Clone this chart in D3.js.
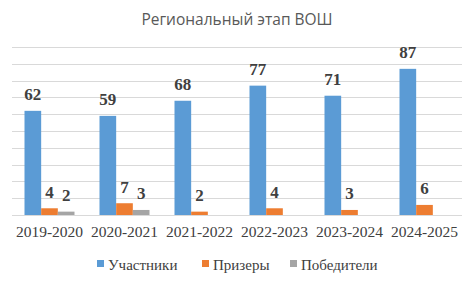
<!DOCTYPE html>
<html>
<head>
<meta charset="utf-8">
<script src="https://cdn.jsdelivr.net/npm/d3@7"></script>
<style>
  body { margin: 0; background: #fff; }
  svg { display: block; }
  .serif { font-family: 'Liberation Serif', 'Times New Roman', 'DejaVu Serif', serif; }
</style>
</head>
<body>
<div id="chart"></div>
<script>
// Региональный этап ВОШ
var years = ["2019-2020", "2020-2021", "2021-2022", "2022-2023", "2023-2024", "2024-2025"];
var seriesNames = ["Участники", "Призеры", "Победители"];
var participants = [62, 59, 68, 77, 71, 87];
var prizewinners = [4, 7, 2, 4, 3, 6];
var winners = [2, 3, null, null, null, null];
var yTicks = [0, 10, 20, 30, 40, 50, 60, 70, 80, 90, 100];

var w = 472, h = 285;
var margin = {left: 12, right: 10, top: 47, bottom: 70};

var color = d3.scaleOrdinal()
    .domain(seriesNames)
    .range(["#5B9BD5", "#ED7D31", "#A5A5A5"]);

var rows = years.map((y, i) => ({
    year: y,
    values: [participants[i], prizewinners[i], winners[i]]
}));

var svg = d3.select("#chart").append("svg")
    .attr("width", w)
    .attr("height", h);

var xScale = d3.scaleBand()
    .domain(years)
    .range([margin.left, w - margin.right]);

var inner = d3.scaleBand()
    .domain(seriesNames)
    .range([0, xScale.bandwidth() * 2 / 3]);

var yScale = d3.scaleLinear()
    .domain([0, 100])
    .range([h - margin.bottom, margin.top]);

// gridlines
svg.append("g")
    .selectAll("line")
    .data(yTicks)
    .enter()
    .append("line")
    .attr("x1", margin.left)
    .attr("x2", w - margin.right)
    .attr("y1", d => Math.round(yScale(d)) + 0.5)
    .attr("y2", d => Math.round(yScale(d)) + 0.5)
    .attr("stroke", "#D9D9D9")
    .attr("stroke-width", 1);

// title
svg.append("text")
    .attr("x", 237)
    .attr("y", 25)
    .attr("text-anchor", "middle")
    .style("font-family", "'Open Sans', sans-serif")
    .style("font-size", "15.5px")
    .attr("fill", "#595959")
    .text("Региональный этап ВОШ");

var groups = svg.selectAll(".grp")
    .data(rows)
    .enter()
    .append("g")
    .attr("class", "grp")
    .attr("transform", d => `translate(${xScale(d.year) + xScale.bandwidth() / 6}, 0)`);

var cells = groups.selectAll(".bar")
    .data(d => d.values.map((v, k) => ({key: seriesNames[k], value: v})).filter(c => c.value != null))
    .enter();

cells.append("rect")
    .attr("class", "bar")
    .attr("x", d => inner(d.key))
    .attr("width", inner.bandwidth())
    .attr("y", d => yScale(d.value))
    .attr("height", d => yScale(0) - yScale(d.value))
    .attr("fill", d => color(d.key));

cells.append("text")
    .attr("class", "serif")
    .attr("x", d => inner(d.key) + inner.bandwidth() / 2)
    .attr("y", d => yScale(d.value) - 10.5)
    .attr("text-anchor", "middle")
    .style("font-weight", "bold")
    .style("font-size", "17px")
    .attr("fill", "#404040")
    .text(d => d.value);

// x axis labels
var xAxis = d3.axisBottom(xScale).tickSize(0).tickPadding(11);
var gx = svg.append("g")
    .attr("transform", `translate(0, ${yScale(0)})`)
    .call(xAxis)
    .attr("font-family", null)
    .attr("font-size", null);
gx.select(".domain").remove();
gx.selectAll("text")
    .attr("class", "serif")
    .style("font-size", "15.5px")
    .attr("fill", "#404040");

// legend
var legendX = [97, 202, 290];
var legend = svg.append("g");
seriesNames.forEach((s, i) => {
    legend.append("rect")
        .attr("x", legendX[i])
        .attr("y", 260)
        .attr("width", 7)
        .attr("height", 7)
        .attr("fill", color(s));
    legend.append("text")
        .attr("class", "serif")
        .attr("x", legendX[i] + 11)
        .attr("y", 270)
        .style("font-size", "15px")
        .attr("fill", "#404040")
        .text(s);
});
</script>
</body>
</html>
